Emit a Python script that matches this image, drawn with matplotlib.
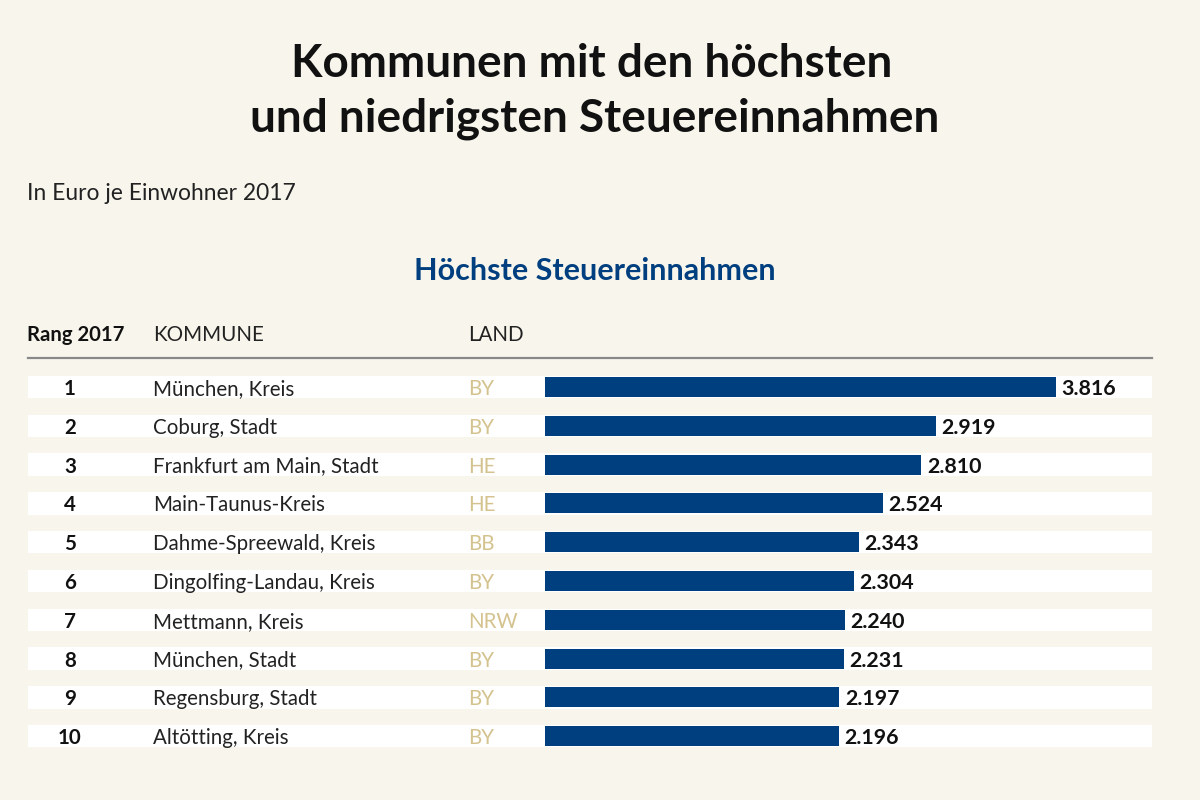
import matplotlib.pyplot as plt
import matplotlib.transforms as mtransforms

plt.rcParams['font.family'] = ['Lato', 'DejaVu Sans']

# data
ranks = [1, 2, 3, 4, 5, 6, 7, 8, 9, 10]
kommunen = [
    "München, Kreis", "Coburg, Stadt", "Frankfurt am Main, Stadt",
    "Main-Taunus-Kreis", "Dahme-Spreewald, Kreis", "Dingolfing-Landau, Kreis",
    "Mettmann, Kreis", "München, Stadt", "Regensburg, Stadt", "Altötting, Kreis",
]
laender = ["BY", "BY", "HE", "HE", "BB", "BY", "NRW", "BY", "BY", "BY"]
werte = [3816, 2919, 2810, 2524, 2343, 2304, 2240, 2231, 2197, 2196]

bg = "#f8f5ec"
blue = "#003f7f"
gold = "#d4c38f"
W, H = 1200, 800

fig = plt.figure(figsize=(12, 8), dpi=100, facecolor=bg)

def fx(px):
    return px / W

def fy(py):
    return 1 - py / H

# titles
fig.text(fx(592), fy(64), "Kommunen mit den höchsten", ha="center", va="center",
         fontsize=33, fontweight="bold", color="#111111")
fig.text(fx(595), fy(119), "und niedrigsten Steuereinnahmen", ha="center", va="center",
         fontsize=33, fontweight="bold", color="#111111")
fig.text(fx(27), fy(193), "In Euro je Einwohner 2017", ha="left", va="center",
         fontsize=16.4, color="#222222")
fig.text(fx(595), fy(271), "Höchste Steuereinnahmen", ha="center", va="center",
         fontsize=22, fontweight="bold", color=blue)

# column headers
fig.text(fx(27), fy(335), "Rang 2017", ha="left", va="center", fontsize=14.6,
         fontweight="bold", color="#111111")
fig.text(fx(153), fy(335), "KOMMUNE", ha="left", va="center", fontsize=14.8, color="#222222")
fig.text(fx(468), fy(335), "LAND", ha="left", va="center", fontsize=14.8, color="#222222")

# table axes: rows centered from y=387 to y=736
row_step = 38.8
top_px = 387 - row_step / 2
ax_h = row_step * len(ranks)
left_px, right_px = 28, 1152
ax = fig.add_axes([fx(left_px), fy(top_px + ax_h), (right_px - left_px) / W, ax_h / H])
ax.set_facecolor("none")

# x scale: value 0 at px 545, 3816 at px 1056
per_px = 3816 / (1056 - 545)
ax.set_xlim(-(545 - left_px) * per_px, (right_px - 545) * per_px)
ax.set_ylim(len(ranks) - 0.5, -0.5)
ax.axis("off")

trans = mtransforms.blended_transform_factory(ax.transAxes, ax.transData)
ys = list(range(len(ranks)))

for y in ys:
    ax.axhspan(y - 0.29, y + 0.29, color="white", zorder=0, lw=0)

ax.barh(ys, werte, left=0, height=0.52, color=blue, zorder=2)

for y, r, k, l, v in zip(ys, ranks, kommunen, laender, werte):
    yt = y + 0.05
    ax.text((70 - left_px) / (right_px - left_px), yt, str(r), transform=trans,
            ha="center", va="center", fontsize=14.8, fontweight="bold", color="#111111")
    ax.text((153 - left_px) / (right_px - left_px), yt, k, transform=trans,
            ha="left", va="center", fontsize=14.8, color="#222222")
    ax.text((468 - left_px) / (right_px - left_px), yt, l, transform=trans,
            ha="left", va="center", fontsize=14.8, color=gold)
    ax.annotate(f"{v:,}".replace(",", "."), (v, yt), xytext=(4, 0),
                textcoords="offset points", ha="left", va="center",
                fontsize=15.4, fontweight="bold", color="#111111")

# header rule
fig.add_artist(plt.Line2D([fx(28), fx(1152)], [fy(358), fy(358)],
                          color="#888888", lw=1.6))

fig.savefig("out.png", dpi=100, facecolor=bg)
